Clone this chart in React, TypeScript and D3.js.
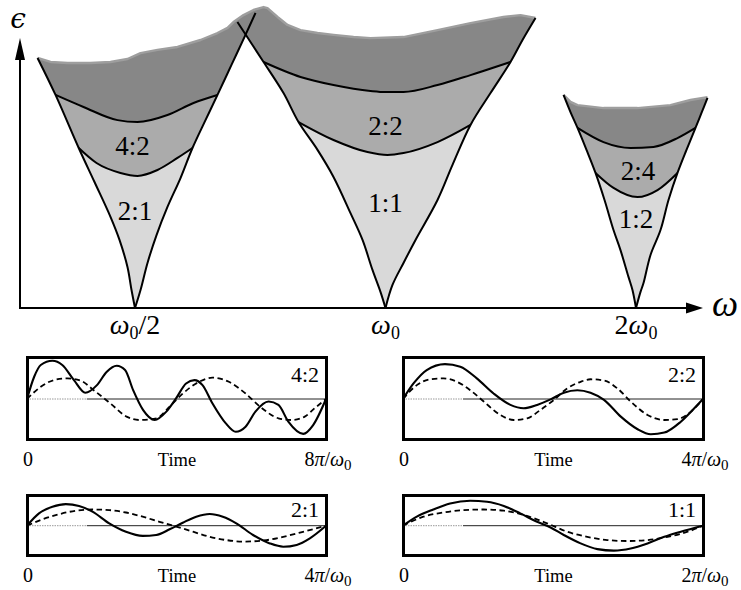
import React from "react";
import * as d3 from "d3";

type P = [number, number];

// ---- Resonance tongues: points are [ω / ω0, ε] ----
const halfLeft: P[] = [[0.5, 0], [0.4952, 0.067], [0.4897, 0.153], [0.479, 0.254], [0.4672, 0.34], [0.447, 0.47], [0.4279, 0.597], [0.4013, 0.795], [0.3818, 0.933]];
const halfRight: P[] = [[0.5, 0], [0.5077, 0.067], [0.5176, 0.168], [0.5307, 0.272], [0.547, 0.377], [0.5671, 0.485], [0.5862, 0.597], [0.6077, 0.701], [0.6282, 0.795], [0.653, 0.907], [0.6788, 1.019], [0.6979, 1.101]];
const oneLeft: P[] = [[1, 0], [0.9862, 0.06], [0.9646, 0.142], [0.9384, 0.254], [0.9077, 0.354], [0.866, 0.489], [0.8285, 0.59], [0.7861, 0.694], [0.7541, 0.802], [0.7136, 0.918], [0.6638, 1.067]];
const oneRight: P[] = [[1, 0], [1.0195, 0.086], [1.0511, 0.168], [1.0866, 0.254], [1.1548, 0.403], [1.2037, 0.534], [1.2652, 0.683], [1.3372, 0.802], [1.4133, 0.918], [1.461, 1.0], [1.5145, 1.082]];
const twoLeft: P[] = [[2, 0], [1.9806, 0.067], [1.9588, 0.116], [1.916, 0.216], [1.8793, 0.291], [1.8332, 0.403], [1.788, 0.504], [1.744, 0.59], [1.7012, 0.672], [1.6684, 0.731], [1.6366, 0.795]];
const twoRight: P[] = [[2, 0], [2.0251, 0.06], [2.042, 0.093], [2.0819, 0.198], [2.1403, 0.291], [2.1882, 0.403], [2.2433, 0.504], [2.2999, 0.59], [2.3578, 0.672], [2.3974, 0.728], [2.4375, 0.784]];

// upper (unresolved) edge of the shaded regions
const topEdgeMain: P[] = [[0.3818, 0.933], [0.3958, 0.918], [0.4148, 0.914], [0.4421, 0.914], [0.4672, 0.918], [0.4897, 0.929], [0.5077, 0.951], [0.5321, 0.963], [0.5624, 0.974], [0.5994, 1.0], [0.6282, 1.026], [0.6459, 1.045], [0.6566, 1.067], [0.6751, 1.093], [0.694, 1.112], [0.7136, 1.123], [0.7214, 1.119], [0.7417, 1.086], [0.7625, 1.056], [0.7904, 1.037], [0.8285, 1.026], [0.866, 1.019], [0.9153, 1.011], [0.9593, 1.007], [1.0511, 1.011], [1.1548, 1.037], [1.2652, 1.063], [1.3861, 1.086], [1.4528, 1.093], [1.5145, 1.082]];
const topEdgeHigh: P[] = [[1.6366, 0.795], [1.6684, 0.769], [1.7012, 0.757], [1.828, 0.746], [2.0083, 0.746], [2.2002, 0.757], [2.3256, 0.776], [2.4375, 0.787]];

// interior boundaries between locking orders
const halfUpper: P[] = [[0.4013, 0.795], [0.4336, 0.75], [0.4764, 0.701], [0.5035, 0.694], [0.547, 0.72], [0.5879, 0.765], [0.6282, 0.795]];
const halfLower: P[] = [[0.4279, 0.597], [0.4495, 0.541], [0.4803, 0.504], [0.5035, 0.493], [0.5321, 0.515], [0.5624, 0.56], [0.5862, 0.597]];
const oneUpper: P[] = [[0.7136, 0.918], [0.7904, 0.862], [0.866, 0.832], [0.9593, 0.81], [1, 0.806], [1.0511, 0.806], [1.1548, 0.832], [1.2652, 0.869], [1.4133, 0.918]];
const oneLower: P[] = [[0.7861, 0.694], [0.866, 0.627], [0.9514, 0.582], [1.0055, 0.571], [1.0511, 0.578], [1.1548, 0.619], [1.2652, 0.683]];
const twoUpper: P[] = [[1.7012, 0.672], [1.828, 0.619], [1.9698, 0.597], [2.0992, 0.601], [2.2433, 0.634], [2.3578, 0.672]];
const twoLower: P[] = [[1.788, 0.504], [1.8793, 0.448], [2.0083, 0.414], [2.1226, 0.44], [2.2433, 0.504]];

const regionLabels = ["4:2", "2:1", "2:2", "1:1", "2:4", "1:2"];
const regionAnchors: P[] = [[0.4965, 0.571], [0.5, 0.328], [1, 0.646], [1, 0.358], [2.011, 0.478], [2.0, 0.299]];

// ---- Time traces: [t / window, displacement] ----
const trace42Response: P[] = [[0, 0], [0.024, 0.53], [0.046, 0.81], [0.085, 0.91], [0.118, 0.81], [0.157, 0.45], [0.195, 0.15], [0.234, 0.33], [0.267, 0.65], [0.3, 0.79], [0.328, 0.69], [0.355, 0.21], [0.388, -0.26], [0.427, -0.5], [0.466, -0.3], [0.499, 0.02], [0.532, 0.37], [0.56, 0.45], [0.587, 0.33], [0.62, -0.1], [0.665, -0.58], [0.698, -0.78], [0.731, -0.66], [0.764, -0.3], [0.808, -0.06], [0.841, -0.14], [0.874, -0.54], [0.924, -0.83], [0.957, -0.62], [1, 0]];
const trace42Drive: P[] = [[0, 0], [0.046, 0.29], [0.09, 0.45], [0.135, 0.49], [0.179, 0.44], [0.223, 0.21], [0.278, -0.1], [0.333, -0.42], [0.377, -0.5], [0.433, -0.46], [0.477, -0.18], [0.521, 0.13], [0.576, 0.41], [0.62, 0.51], [0.675, 0.41], [0.731, 0.13], [0.786, -0.22], [0.841, -0.46], [0.885, -0.5], [0.929, -0.42], [0.962, -0.22], [1, 0]];
const trace22Response: P[] = [[0, 0], [0.035, 0.37], [0.079, 0.69], [0.14, 0.83], [0.191, 0.77], [0.246, 0.49], [0.302, 0.13], [0.358, -0.14], [0.402, -0.22], [0.447, -0.14], [0.492, -0.01], [0.536, 0.15], [0.581, 0.21], [0.625, 0.15], [0.67, -0.02], [0.726, -0.42], [0.782, -0.72], [0.826, -0.84], [0.871, -0.8], [0.926, -0.54], [0.971, -0.22], [1, 0]];
const trace22Drive: P[] = [[0, 0], [0.046, 0.33], [0.09, 0.47], [0.135, 0.49], [0.18, 0.41], [0.224, 0.21], [0.269, -0.06], [0.324, -0.38], [0.369, -0.5], [0.414, -0.46], [0.458, -0.26], [0.503, -0.02], [0.547, 0.25], [0.592, 0.41], [0.625, 0.47], [0.67, 0.44], [0.715, 0.25], [0.759, -0.06], [0.815, -0.38], [0.871, -0.5], [0.915, -0.48], [0.96, -0.3], [1, 0]];
const trace21Response: P[] = [[0, 0], [0.04, 0.41], [0.085, 0.63], [0.13, 0.72], [0.174, 0.66], [0.219, 0.47], [0.275, 0.08], [0.331, -0.2], [0.387, -0.34], [0.432, -0.31], [0.477, -0.12], [0.521, 0.1], [0.566, 0.3], [0.611, 0.39], [0.655, 0.3], [0.7, 0.08], [0.756, -0.31], [0.812, -0.59], [0.857, -0.7], [0.902, -0.64], [0.946, -0.42], [1, 0]];
const trace21Drive: P[] = [[0, 0], [0.051, 0.21], [0.107, 0.38], [0.163, 0.5], [0.219, 0.54], [0.275, 0.52], [0.331, 0.44], [0.387, 0.3], [0.443, 0.13], [0.499, -0.03], [0.555, -0.2], [0.611, -0.37], [0.667, -0.48], [0.722, -0.53], [0.801, -0.48], [0.857, -0.37], [0.913, -0.23], [0.963, -0.1], [1, 0]];
const trace11Response: P[] = [[0, 0], [0.046, 0.3], [0.101, 0.54], [0.157, 0.74], [0.224, 0.83], [0.28, 0.8], [0.336, 0.66], [0.391, 0.41], [0.447, 0.13], [0.492, -0.06], [0.536, -0.31], [0.592, -0.59], [0.648, -0.78], [0.703, -0.83], [0.759, -0.76], [0.815, -0.59], [0.871, -0.37], [0.926, -0.2], [1, 0]];
const trace11Drive: P[] = [[0, 0], [0.068, 0.3], [0.135, 0.44], [0.202, 0.52], [0.269, 0.54], [0.336, 0.5], [0.402, 0.36], [0.48, 0.08], [0.547, -0.2], [0.614, -0.37], [0.681, -0.48], [0.748, -0.51], [0.815, -0.48], [0.882, -0.37], [0.949, -0.2], [1, 0]];

const panelRatios = ["4:2", "2:2", "2:1", "1:1"];
const panelWindows = ["8", "4", "4", "2"];

const SERIF = "'Liberation Serif', 'Times New Roman', serif";
const DARK = "#878787";
const MID = "#ababab";
const LIGHT = "#d9d9d9";
const RIM = "#9e9e9e";

const xW = d3.scaleLog().base(2).domain([0.5, 2]).range([135, 636]);
const yE = d3.scaleLinear().domain([0, 1]).range([308, 40]);

const smooth = d3.line<P>().x((d) => xW(d[0])).y((d) => yE(d[1])).curve(d3.curveCatmullRom.alpha(0.5));
const mono = d3.line<P>().x((d) => xW(d[0])).y((d) => yE(d[1])).curve(d3.curveMonotoneX);
const straight = d3.line<P>().x((d) => xW(d[0])).y((d) => yE(d[1]));

function tongueOutline(left: P[], right: P[], top: P[]): string {
  const lTop = left[left.length - 1];
  const rTop = right[right.length - 1];
  const mid = top.filter((p) => p[0] > lTop[0] && p[0] < rTop[0]);
  const up = smooth(left) as string;
  const across = (straight([lTop, ...mid, rTop]) as string).replace(/^M/, "L");
  const down = (smooth([...right].reverse()) as string).replace(/^M/, "L");
  return up + across + down + "Z";
}

function belowCurve(c: P[]): string {
  const f = c[0];
  const l = c[c.length - 1];
  const body = mono(c) as string;
  const pt = (w: number, e: number) => `L${xW(w)},${yE(e)}`;
  return body + pt(l[0] * 1.12, l[1]) + pt(l[0] * 1.12, -0.05) + pt(f[0] * 0.88, -0.05) + pt(f[0] * 0.88, f[1]) + "Z";
}

function curveStroke(c: P[]): string {
  const f = c[0];
  const l = c[c.length - 1];
  const body = (mono(c) as string).replace(/^M/, "L");
  return `M${xW(f[0] * 0.97)},${yE(f[1])}` + body + `L${xW(l[0] * 1.03)},${yE(l[1])}`;
}

const tongues = [
  { id: "t-half", left: halfLeft, right: halfRight, top: topEdgeMain, upper: halfUpper, lower: halfLower },
  { id: "t-one", left: oneLeft, right: oneRight, top: topEdgeMain, upper: oneUpper, lower: oneLower },
  { id: "t-two", left: twoLeft, right: twoRight, top: topEdgeHigh, upper: twoUpper, lower: twoLower },
];

type PanelSpec = { x0: number; x1: number; top: number; bottom: number; cy: number; half: number; response: P[]; drive: P[] };

const panels: PanelSpec[] = [
  { x0: 26, x1: 328, top: 356, bottom: 441, cy: 399, half: 42, response: trace42Response, drive: trace42Drive },
  { x0: 402, x1: 705, top: 356, bottom: 441, cy: 399, half: 42, response: trace22Response, drive: trace22Drive },
  { x0: 26, x1: 328, top: 494, bottom: 557, cy: 525.7, half: 30, response: trace21Response, drive: trace21Drive },
  { x0: 402, x1: 705, top: 494, bottom: 557, cy: 525.7, half: 30, response: trace11Response, drive: trace11Drive },
];

function Panel({ spec, ratio, span }: { spec: PanelSpec; ratio: string; span: string }) {
  const tx = d3.scaleLinear().domain([0, 1]).range([spec.x0 + 1, spec.x1 - 2]);
  const vy = d3.scaleLinear().domain([-1, 1]).range([spec.cy + spec.half, spec.cy - spec.half]);
  const line = d3.line<P>().x((d) => tx(d[0])).y((d) => vy(d[1])).curve(d3.curveMonotoneX);
  const labelY = spec.bottom + 25;
  const split = tx(0.2);
  return (
    <g>
      <line x1={tx(0)} x2={split} y1={vy(0)} y2={vy(0)} stroke="#999" strokeWidth={1} strokeDasharray="1.5 1" />
      <line x1={split} x2={tx(1)} y1={vy(0)} y2={vy(0)} stroke="#222" strokeWidth={1} />
      <path d={line(spec.drive) as string} fill="none" stroke="#000" strokeWidth={1.8} strokeDasharray="5.5 3.5" />
      <path d={line(spec.response) as string} fill="none" stroke="#000" strokeWidth={2.1} />
      <rect x={spec.x0 + 1.5} y={spec.top + 1.5} width={spec.x1 - spec.x0 - 3} height={spec.bottom - spec.top - 3} fill="none" stroke="#000" strokeWidth={3} />
      <text x={spec.x1 - 9} y={spec.top + 26 - (spec.bottom - spec.top < 70 ? 3 : 0)} textAnchor="end" fontFamily={SERIF} fontSize={22}>{ratio}</text>
      <text x={spec.x0 + 2} y={labelY} textAnchor="middle" fontFamily={SERIF} fontSize={20}>0</text>
      <text x={(spec.x0 + spec.x1) / 2} y={labelY} textAnchor="middle" fontFamily={SERIF} fontSize={18.5}>Time</text>
      <text x={spec.x1} y={labelY} textAnchor="middle" fontFamily={SERIF} fontSize={20}>
        {span}
        <tspan fontStyle="italic">π</tspan>/<tspan fontStyle="italic">ω</tspan>
        <tspan fontSize={15} dy={4}>0</tspan>
      </text>
    </g>
  );
}

export default function App() {
  const axisY = yE(0);
  const axisX = 20;
  return (
    <svg width={741} height={590} viewBox="0 0 741 590" style={{ position: "absolute", left: 0, top: 0, background: "#fff" }}>
      <defs>
        {tongues.map((t) => (
          <clipPath id={t.id} key={t.id}>
            <path d={tongueOutline(t.left, t.right, t.top)} />
          </clipPath>
        ))}
      </defs>

      {/* shaded tongues */}
      {tongues.map((t) => (
        <path key={t.id + "-fill"} d={tongueOutline(t.left, t.right, t.top)} fill={DARK} />
      ))}
      <path d={straight(topEdgeMain) as string} fill="none" stroke={RIM} strokeWidth={2.4} strokeLinejoin="round" />
      <path d={straight(topEdgeHigh) as string} fill="none" stroke={RIM} strokeWidth={2.4} strokeLinejoin="round" />
      {tongues.map((t) => (
        <g key={t.id + "-inner"} clipPath={`url(#${t.id})`}>
          <path d={belowCurve(t.upper)} fill={MID} />
          <path d={belowCurve(t.lower)} fill={LIGHT} />
          <path d={curveStroke(t.upper)} fill="none" stroke="#000" strokeWidth={2} />
          <path d={curveStroke(t.lower)} fill="none" stroke="#000" strokeWidth={2} />
        </g>
      ))}
      {tongues.map((t) => (
        <g key={t.id + "-edges"}>
          <path d={smooth(t.left) as string} fill="none" stroke="#000" strokeWidth={2} />
          <path d={smooth(t.right) as string} fill="none" stroke="#000" strokeWidth={2} />
        </g>
      ))}

      {regionLabels.map((s, i) => (
        <text key={s + i} x={xW(regionAnchors[i][0])} y={yE(regionAnchors[i][1])} textAnchor="middle" fontFamily={SERIF} fontSize={27}>
          {s}
        </text>
      ))}

      {/* axes */}
      <line x1={axisX} y1={axisY} x2={688} y2={axisY} stroke="#000" strokeWidth={2} />
      <path d={`M703,${axisY}L686,${axisY - 5.5}L686,${axisY + 5.5}Z`} fill="#000" />
      <line x1={axisX} y1={axisY + 1} x2={axisX} y2={58} stroke="#000" strokeWidth={2} />
      <path d={`M${axisX},38L${axisX - 5},60L${axisX + 5},60Z`} fill="#000" />
      <text x={18} y={28} textAnchor="middle" fontFamily="'DejaVu Serif', serif" fontSize={28} fontStyle="italic">ϵ</text>
      <text x={725} y={316} textAnchor="middle" fontFamily={SERIF} fontSize={37} fontStyle="italic">ω</text>

      <text x={xW(0.5)} y={334} textAnchor="middle" fontFamily={SERIF} fontSize={28}>
        <tspan fontStyle="italic">ω</tspan>
        <tspan fontSize={18} dy={5}>0</tspan>
        <tspan dy={-5}>/2</tspan>
      </text>
      <text x={xW(1)} y={334} textAnchor="middle" fontFamily={SERIF} fontSize={28}>
        <tspan fontStyle="italic">ω</tspan>
        <tspan fontSize={18} dy={5}>0</tspan>
      </text>
      <text x={xW(2)} y={334} textAnchor="middle" fontFamily={SERIF} fontSize={28}>
        2<tspan fontStyle="italic">ω</tspan>
        <tspan fontSize={18} dy={5}>0</tspan>
      </text>

      {panels.map((p, i) => (
        <Panel key={i} spec={p} ratio={panelRatios[i]} span={panelWindows[i]} />
      ))}
    </svg>
  );
}
